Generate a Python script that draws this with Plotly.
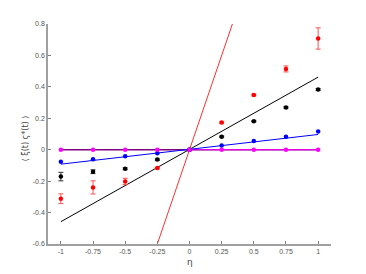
import plotly.graph_objects as go

eta = [-1, -0.75, -0.5, -0.25, 0, 0.25, 0.5, 0.75, 1]

red_y = [-0.312, -0.24, -0.202, -0.117, 0.0, 0.173, 0.348, 0.514, 0.708]
red_err = [0.031, 0.042, 0.02, 0.005, 0.0, 0.005, 0.005, 0.019, 0.068]
black_y = [-0.171, -0.140, -0.121, -0.063, 0.0, 0.083, 0.181, 0.269, 0.383]
black_err = [0.027, 0.012, 0.006, 0.005, 0.0, 0.004, 0.004, 0.005, 0.006]
blue_y = [-0.077, -0.061, -0.042, -0.023, 0.0, 0.027, 0.056, 0.083, 0.116]
mag_y = [0.0, 0.0, 0.0, 0.0, 0.0, 0.0, 0.0, 0.0, 0.0]

fit_x = [-1, 1]
red_fit = [-2.4, 2.4]
black_fit = [-0.458, 0.462]
blue_fit = [-0.092, 0.097]
purple_fit = [0.0, 0.0]
mag_fit_x = [0, 1]
mag_fit = [0.0, 0.0]

xticks = [-1, -0.75, -0.5, -0.25, 0, 0.25, 0.5, 0.75, 1]
xticklabels = ["-1", "-0.75", "-0.5", "-0.25", "0", "0.25", "0.5", "0.75", "1"]
yticks = [-0.6, -0.4, -0.2, 0, 0.2, 0.4, 0.6, 0.8]
yticklabels = ["-0.6", "-0.4", "-0.2", "0", "0.2", "0.4", "0.6", "0.8"]

fig = go.Figure()

# fit lines
fig.add_trace(go.Scatter(x=fit_x, y=purple_fit, mode="lines",
                         line=dict(color="#800080", width=1.6), showlegend=False))
fig.add_trace(go.Scatter(x=mag_fit_x, y=mag_fit, mode="lines",
                         line=dict(color="#ff00ff", width=1.0), showlegend=False))
fig.add_trace(go.Scatter(x=fit_x, y=blue_fit, mode="lines",
                         line=dict(color="#0000ff", width=1.0), showlegend=False))
fig.add_trace(go.Scatter(x=fit_x, y=black_fit, mode="lines",
                         line=dict(color="#000000", width=1.0), showlegend=False))
fig.add_trace(go.Scatter(x=fit_x, y=red_fit, mode="lines",
                         line=dict(color="#ff3030", width=1.0), showlegend=False))

# data points
fig.add_trace(go.Scatter(x=eta, y=red_y, mode="markers",
                         marker=dict(color="#ff0000", size=4.5),
                         error_y=dict(type="data", array=red_err, color="#ff5050",
                                      thickness=1, width=2.5),
                         showlegend=False))
fig.add_trace(go.Scatter(x=eta, y=black_y, mode="markers",
                         marker=dict(color="#000000", size=4.5),
                         error_y=dict(type="data", array=black_err, color="#333333",
                                      thickness=1, width=2.5),
                         showlegend=False))
fig.add_trace(go.Scatter(x=eta, y=blue_y, mode="markers",
                         marker=dict(color="#0000ff", size=4.5), showlegend=False))
fig.add_trace(go.Scatter(x=eta, y=mag_y, mode="markers",
                         marker=dict(color="#ff00ff", size=4.5), showlegend=False))

axis_common = dict(showgrid=False, zeroline=False, showline=True,
                   linecolor="#a0a0a0", linewidth=1.5,
                   ticks="inside", ticklen=3, tickcolor="#808080",
                   tickfont=dict(family="Liberation Sans, Arial", size=7, color="#555555"))

fig.update_layout(
    width=358, height=266,
    margin=dict(l=40, r=35, t=12, b=30),
    paper_bgcolor="white", plot_bgcolor="white",
    xaxis=dict(range=[-1.1, 1.1], tickvals=xticks, ticktext=xticklabels, **axis_common),
    yaxis=dict(range=[-0.6, 0.8], tickvals=yticks, ticktext=yticklabels, **axis_common),
    annotations=[
        dict(text="η", x=0.5, y=-0.08, xref="paper", yref="paper",
             showarrow=False, font=dict(family="DejaVu Sans", size=9, color="#444444"),
             xanchor="center", yanchor="middle"),
        dict(text="⟨ ξ(t) ς*(t) ⟩", x=-0.079, y=0.478, xref="paper", yref="paper",
             showarrow=False, textangle=-90,
             font=dict(family="DejaVu Sans", size=8, color="#444444"),
             xanchor="center", yanchor="middle"),
    ],
)

fig.write_html("out.html")
